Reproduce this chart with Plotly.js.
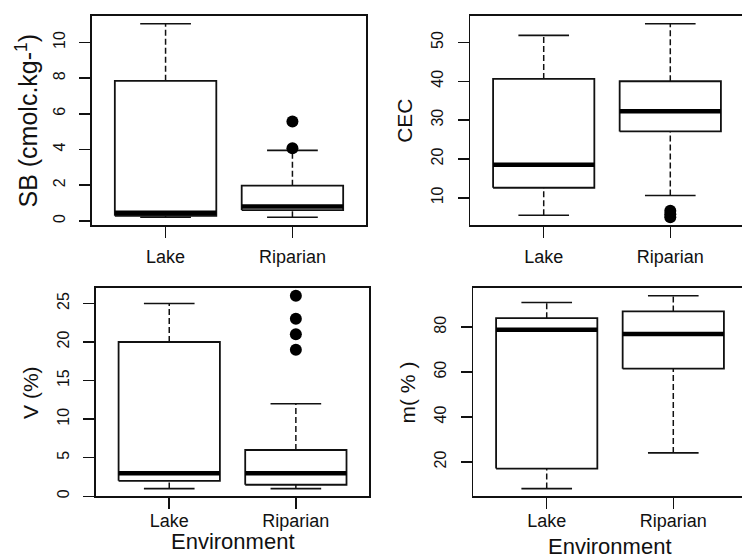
<!DOCTYPE html>
<html>
<head>
<meta charset="utf-8">
<script src="https://cdn.plot.ly/plotly-3.0.1.min.js"></script>
<style>
html, body { margin: 0; padding: 0; overflow: hidden; background: #fff; }
#chart { width: 748px; height: 558px; }
</style>
</head>
<body>
<div id="chart"></div>
<script>
// ---- data ----
const categories = ['Lake', 'Riparian'];

// SB (cmolc.kg-1)
const sbLow = [0.2, 0.2];
const sbQ1 = [0.28, 0.6];
const sbMedian = [0.45, 0.8];
const sbQ3 = [7.85, 1.97];
const sbHigh = [11.05, 3.95];
const sbOutliers = [[], [4.07, 5.57]];
const sbTicks = [0, 2, 4, 6, 8, 10];

// CEC
const cecLow = [5.5, 10.6];
const cecQ1 = [12.6, 27.1];
const cecMedian = [18.5, 32.3];
const cecQ3 = [40.6, 40.0];
const cecHigh = [51.8, 54.8];
const cecOutliers = [[], [5.0, 5.8, 6.7]];
const cecTicks = [10, 20, 30, 40, 50];

// V (%)
const vLow = [1, 1];
const vQ1 = [2, 1.5];
const vMedian = [3, 3];
const vQ3 = [20, 6];
const vHigh = [25, 12];
const vOutliers = [[], [19, 21, 23, 26]];
const vTicks = [0, 5, 10, 15, 20, 25];

// m (%)
const mLow = [8.1, 24];
const mQ1 = [17, 61.5];
const mMedian = [78.8, 77];
const mQ3 = [84, 87];
const mHigh = [91, 94];
const mOutliers = [[], []];
const mTicks = [20, 40, 60, 80];

const yTitles = ['SB (cmolc.kg-<sup>1</sup>)', 'CEC', 'V (%)', 'm( % )'];
const xTitle = 'Environment';

// ---- drawing ----
const W = 748, H = 558;
const INK = '#111';
const BOXW = 0.8, CAPW = 0.4;

const stats = [
  {low: sbLow, q1: sbQ1, med: sbMedian, q3: sbQ3, high: sbHigh, out: sbOutliers, ticks: sbTicks},
  {low: cecLow, q1: cecQ1, med: cecMedian, q3: cecQ3, high: cecHigh, out: cecOutliers, ticks: cecTicks},
  {low: vLow, q1: vQ1, med: vMedian, q3: vQ3, high: vHigh, out: vOutliers, ticks: vTicks},
  {low: mLow, q1: mQ1, med: mMedian, q3: mQ3, high: mHigh, out: mOutliers, ticks: mTicks}
];

// pixel frames of the four plot regions [left, right, top, bottom]
const frames = [
  [92, 366, 16, 225],
  [470.3, 743.7, 16, 225],
  [95.8, 369.3, 288, 496.3],
  [473.3, 746.7, 288, 496.3]
];
const xLabelStandoff = [4, 4, -4, -4];
const yTitleSize = [25, 21, 21, 21];
const envShift = [null, null, -45, -50];

const traces = [];
const layout = {
  width: W, height: H,
  margin: {l: 0, r: 0, t: 0, b: 0},
  paper_bgcolor: '#fff', plot_bgcolor: '#fff',
  showlegend: false,
  font: {family: 'Liberation Sans, Arial, sans-serif', color: INK},
  annotations: []
};

stats.forEach((s, i) => {
  const n = i + 1;
  const xa = 'x' + (n === 1 ? '' : n), ya = 'y' + (n === 1 ? '' : n);
  const xk = 'xaxis' + (n === 1 ? '' : n), yk = 'yaxis' + (n === 1 ? '' : n);
  const pos = categories.map((c, k) => k + 1);

  // whiskers (dashed)
  const wx = [], wy = [];
  // caps
  const cx = [], cy = [];
  pos.forEach((p, k) => {
    wx.push(p, p, null, p, p, null);
    wy.push(s.q3[k], s.high[k], null, s.low[k], s.q1[k], null);
    cx.push(p - CAPW / 2, p + CAPW / 2, null, p - CAPW / 2, p + CAPW / 2, null);
    cy.push(s.high[k], s.high[k], null, s.low[k], s.low[k], null);
  });
  traces.push({type: 'scatter', mode: 'lines', x: wx, y: wy, xaxis: xa, yaxis: ya,
    line: {color: INK, width: 1.5, dash: '6px,3px'}, hoverinfo: 'skip'});
  traces.push({type: 'scatter', mode: 'lines', x: cx, y: cy, xaxis: xa, yaxis: ya,
    line: {color: INK, width: 1.6}, hoverinfo: 'skip'});

  // boxes
  pos.forEach((p, k) => {
    traces.push({type: 'scatter', mode: 'lines', xaxis: xa, yaxis: ya,
      x: [p - BOXW / 2, p + BOXW / 2, p + BOXW / 2, p - BOXW / 2, p - BOXW / 2],
      y: [s.q1[k], s.q1[k], s.q3[k], s.q3[k], s.q1[k]],
      fill: 'toself', fillcolor: '#fff', line: {color: INK, width: 1.8}, hoverinfo: 'skip',
      name: categories[k]});
    traces.push({type: 'scatter', mode: 'lines', xaxis: xa, yaxis: ya,
      x: [p - BOXW / 2, p + BOXW / 2], y: [s.med[k], s.med[k]],
      line: {color: '#000', width: 4.5}, hoverinfo: 'skip'});
  });

  // outliers
  const ox = [], oy = [];
  pos.forEach((p, k) => s.out[k].forEach(v => { ox.push(p); oy.push(v); }));
  if (ox.length) {
    traces.push({type: 'scatter', mode: 'markers', x: ox, y: oy, xaxis: xa, yaxis: ya,
      marker: {color: '#000', size: 12}, hoverinfo: 'skip'});
  }

  // y range: R style, data extent widened by 4%
  const all = s.low.concat(s.high, [].concat(...s.out));
  const lo = Math.min(...all), hi = Math.max(...all);
  const ext = 0.04 * (hi - lo);

  const f = frames[i];
  layout[xk] = {
    domain: [f[0] / W, f[1] / W], anchor: ya,
    range: [0.5 - 0.08, categories.length + 0.5 + 0.08],
    tickmode: 'array', tickvals: pos, ticktext: categories,
    showline: true, mirror: true, linecolor: INK, linewidth: 1.6,
    ticks: 'outside', ticklen: 11, tickwidth: 1.5, tickcolor: INK,
    showgrid: false, zeroline: false, fixedrange: true,
    tickfont: {size: 18, color: INK}, ticklabelstandoff: xLabelStandoff[i]
  };
  layout[yk] = {
    domain: [1 - f[3] / H, 1 - f[2] / H], anchor: xa,
    range: [lo - ext, hi + ext],
    tickmode: 'array', tickvals: s.ticks, tickangle: -90,
    showline: true, mirror: true, linecolor: INK, linewidth: 1.6,
    ticks: 'outside', ticklen: 11, tickwidth: 1.5, tickcolor: INK,
    showgrid: false, zeroline: false, fixedrange: true,
    tickfont: {size: 16, color: INK}, ticklabelstandoff: 8
  };

  layout.annotations.push({
    text: yTitles[i], textangle: -90, showarrow: false,
    xref: xa + ' domain', x: 0, xshift: -66, xanchor: 'center',
    yref: ya + ' domain', y: 0.5, yanchor: 'middle',
    font: {size: yTitleSize[i], color: INK}
  });
  if (envShift[i] !== null) {
    layout.annotations.push({
      text: xTitle, showarrow: false,
      xref: xa + ' domain', x: 0.5, xanchor: 'center',
      yref: ya + ' domain', y: 0, yshift: envShift[i], yanchor: 'middle',
      font: {size: 22, color: INK}
    });
  }
});

Plotly.newPlot('chart', traces, layout, {staticPlot: true, displayModeBar: false});
</script>
</body>
</html>
